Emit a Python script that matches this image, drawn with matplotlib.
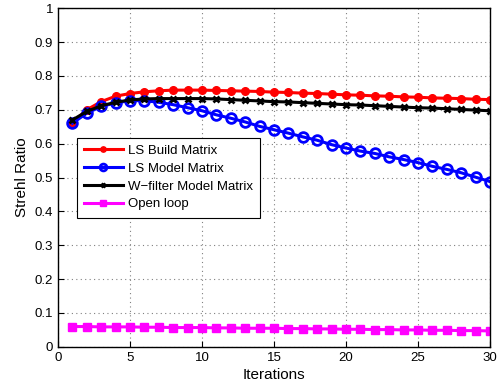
import matplotlib
matplotlib.use("Agg")
import matplotlib.pyplot as plt
from matplotlib.ticker import FixedLocator, FuncFormatter

plt.rcParams['font.family'] = ['Liberation Sans', 'DejaVu Sans']

iterations = list(range(1, 31))
ls_build = [0.662, 0.700, 0.724, 0.740, 0.748, 0.753, 0.756, 0.758, 0.758, 0.758,
            0.757, 0.756, 0.755, 0.754, 0.752, 0.751, 0.749, 0.748, 0.746, 0.744,
            0.743, 0.741, 0.740, 0.738, 0.737, 0.735, 0.734, 0.733, 0.731, 0.730]
ls_model = [0.660, 0.690, 0.710, 0.720, 0.727, 0.727, 0.722, 0.715, 0.706, 0.697,
            0.685, 0.675, 0.664, 0.651, 0.641, 0.631, 0.620, 0.610, 0.597, 0.587,
            0.578, 0.571, 0.561, 0.553, 0.544, 0.533, 0.524, 0.514, 0.501, 0.488]
w_filter = [0.670, 0.695, 0.712, 0.722, 0.729, 0.732, 0.733, 0.733, 0.733, 0.733,
            0.732, 0.730, 0.728, 0.726, 0.724, 0.723, 0.721, 0.719, 0.717, 0.715,
            0.714, 0.712, 0.710, 0.708, 0.706, 0.705, 0.703, 0.701, 0.699, 0.697]
open_loop = [0.060, 0.060, 0.059, 0.059, 0.059, 0.058, 0.058, 0.057, 0.057, 0.057,
             0.056, 0.056, 0.055, 0.055, 0.055, 0.054, 0.054, 0.053, 0.053, 0.052,
             0.052, 0.051, 0.051, 0.050, 0.050, 0.049, 0.049, 0.048, 0.048, 0.047]

labels = ['LS Build Matrix', 'LS Model Matrix', 'W\u2212filter Model Matrix', 'Open loop']

fig = plt.figure(figsize=(5.0, 3.88), dpi=100)
ax = fig.add_axes([0.116, 0.106, 0.864, 0.873])

ax.plot(iterations, ls_build, color='#ff0000', lw=2.2, marker='o', ms=5.5,
        mfc='#ff0000', mec='#ff0000', label=labels[0])
ax.plot(iterations, ls_model, color='#0000ff', lw=2.2, marker='o', ms=7,
        mfc='none', mec='#0000ff', mew=2, label=labels[1])
ax.plot(iterations, w_filter, color='#000000', lw=2.2, marker='x', ms=5,
        mew=2, label=labels[2])
ax.plot(iterations, open_loop, color='#ff00ff', lw=2.2, marker='s', ms=6,
        mfc='#ff00ff', mec='#ff00ff', label=labels[3])

ax.set_xlim(0, 30)
ax.set_ylim(0, 1)
ax.xaxis.set_major_locator(FixedLocator([0, 5, 10, 15, 20, 25, 30]))
ax.yaxis.set_major_locator(FixedLocator([i / 10 for i in range(11)]))
ax.yaxis.set_major_formatter(FuncFormatter(lambda v, p: ('%g' % round(v, 1))))
ax.tick_params(direction='in', labelsize=9.5, length=4, top=False, right=False)
ax.grid(True, linestyle=(0, (1, 3)), color='#808080', lw=0.8)
for s in ax.spines.values():
    s.set_linewidth(1.0)

ax.set_xlabel('Iterations', fontsize=11, labelpad=3)
ax.set_ylabel('Strehl Ratio', fontsize=11, labelpad=4)

leg = ax.legend(loc='upper left', bbox_to_anchor=(0.044, 0.618), fontsize=9.5,
                frameon=True, fancybox=False, edgecolor='black', framealpha=1,
                handlelength=2.9, borderpad=0.55, labelspacing=0.42, handletextpad=0.4,
                borderaxespad=0, markerscale=0.7)
leg.get_frame().set_linewidth(0.8)

fig.savefig('out.png', dpi=100)
